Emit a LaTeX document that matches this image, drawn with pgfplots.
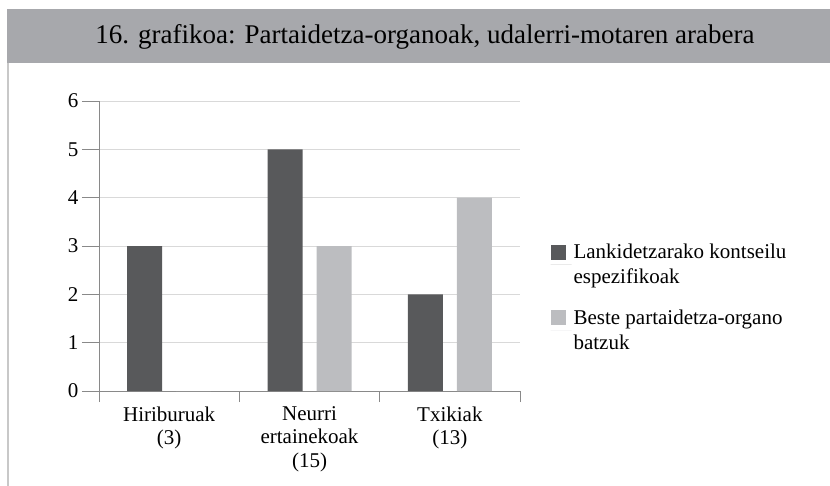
\documentclass[border=0pt]{standalone}
\usepackage{fontspec}
\setmainfont{Liberation Serif}
\usepackage{pgfplots}
\pgfplotsset{compat=1.18}
\definecolor{dark}{HTML}{58595B}
\definecolor{light}{HTML}{BCBDC0}
\definecolor{titlebar}{HTML}{A7A8AC}
\definecolor{axisgray}{HTML}{898989}
\definecolor{gridgray}{HTML}{D9D9D9}
\definecolor{framegray}{HTML}{C8C8C8}
\begin{document}
\begin{tikzpicture}[x=1pt,y=1pt]
\path[use as bounding box] (0,0) rectangle (830,-486);
\fill[titlebar] (7,-9) rectangle (830,-63);
\draw[framegray, line width=1.6pt] (7.8,-63) -- (7.8,-486);
\node[font=\fontsize{27}{30}\selectfont] at (425,-37) {16. grafikoa: Partaidetza-organoak, udalerri-motaren arabera};
\begin{axis}[
  at={(99pt,-391pt)}, anchor=south west,
  scale only axis, width=421pt, height=290pt,
  xmin=-0.5, xmax=2.5, ymin=0, ymax=6,
  axis x line=bottom, axis y line=left,
  axis line style={-, axisgray, line width=1pt},
  ytick={0,1,2,3,4,5,6},
  ymajorgrids, grid style={gridgray, line width=1pt},
  xtick={0,1,2},
  xticklabels={Hiriburuak\\(3), Neurri\\ertainekoak\\(15), Txikiak\\(13)},
  xticklabel style={align=center, yshift=5pt},
  major x tick style={draw=none},
  minor xtick={-0.5,0.5,1.5,2.5},
  minor tick length=11pt, major tick length=17pt,
  tick align=outside,
  tick style={axisgray, line width=1pt},
  /pgf/number format/assume math mode=true,
  ticklabel style={font=\fontsize{21}{23.5}\selectfont},
  legend style={draw=none, at={(1.065,0.52)}, anchor=north west,
    font=\fontsize{21}{25}\selectfont, row sep=20pt},
  legend cell align=left,
  legend image code/.code={\fill[#1] (0pt,5pt) rectangle (15pt,20pt); \path (0pt,0pt) -- (21pt,0pt);},
]
\addplot[ybar, bar width=35pt, bar shift=-24.5pt, fill=dark, draw=none] coordinates {(0,3) (1,5) (2,2)};
\addlegendentry[align=left]{Lankidetzarako kontseilu\\espezifikoak}
\addplot[ybar, bar width=35pt, bar shift=24.5pt, fill=light, draw=none] coordinates {(0,0) (1,3) (2,4)};
\addlegendentry[align=left]{Beste partaidetza-organo\\batzuk}
\end{axis}
\end{tikzpicture}
\end{document}
